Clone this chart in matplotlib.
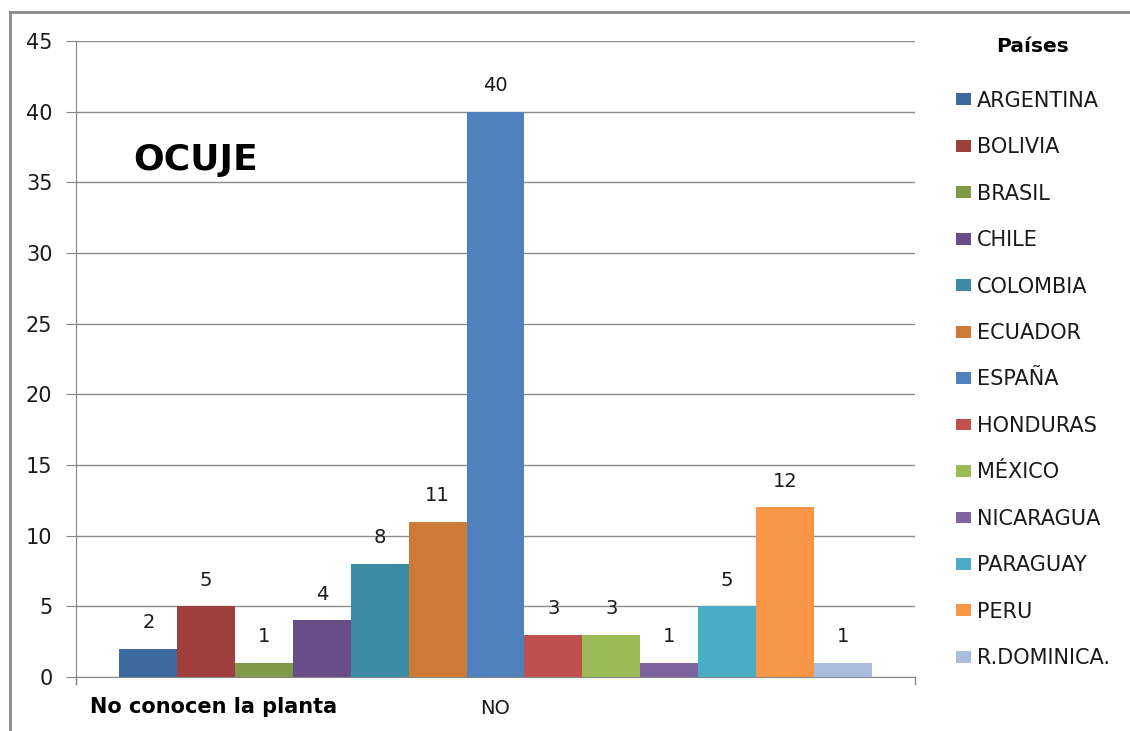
import matplotlib
matplotlib.use("Agg")
import matplotlib.pyplot as plt
from matplotlib.patches import Patch
from matplotlib.lines import Line2D
import numpy as np

plt.rcParams['font.family'] = ['DejaVu Sans']

category = "NO"
countries = ["ARGENTINA", "BOLIVIA", "BRASIL", "CHILE", "COLOMBIA", "ECUADOR",
             "ESPAÑA", "HONDURAS", "MÉXICO", "NICARAGUA", "PARAGUAY", "PERU",
             "R.DOMINICA."]
values = [2, 5, 1, 4, 8, 11, 40, 3, 3, 1, 5, 12, 1]
colors = ["#3D6A9E", "#9E3F3D", "#7E9A48", "#684E87", "#3B8CA2", "#CD7A37",
          "#4F81BD", "#C0504D", "#9BBB59", "#8064A2", "#4BACC6", "#F79646",
          "#A9BCDB"]
yticks = [0, 5, 10, 15, 20, 25, 30, 35, 40, 45]

W, H = 1130, 731
fig = plt.figure(figsize=(W / 100, H / 100), dpi=100)
ax = fig.add_axes([76 / W, 1 - 677 / H, (915 - 76) / W, (677 - 41) / H])

n = len(values)
bw = 1.0 / (n + 1.5)
x0 = -0.5 + 0.75 * bw
for i, (c, v, col) in enumerate(zip(countries, values, colors)):
    xc = x0 + bw * i + bw / 2
    ax.bar(xc, v, width=bw, color=col, label=c, zorder=3)
    ax.annotate(str(v), (xc, v), xytext=(0, 12), textcoords="offset points",
                ha="center", va="bottom", fontsize=14, color="#1a1a1a")

ax.set_xlim(-0.5, 0.5)
ax.set_ylim(0, 45)
ax.set_yticks(yticks)
ax.set_yticklabels([str(t) for t in yticks], fontsize=15, color="#1a1a1a")
ax.set_xticks([0])
ax.set_xticklabels([category], fontsize=14, color="#1a1a1a")
ax.tick_params(axis="x", length=0, pad=16)
ax.tick_params(axis="y", length=7, color="#868686", pad=10)
ax.grid(axis="y", color="#8c8c8c", linewidth=1, zorder=0)
for s in ["top", "right"]:
    ax.spines[s].set_visible(False)
ax.spines["left"].set_color("#868686")
ax.spines["bottom"].set_color("#868686")
ax.spines["left"].set_bounds(-0.5, 45)
# small end ticks on the category axis
for xe in (-0.5, 0.5):
    ax.plot([xe, xe], [0, -0.5], color="#868686", lw=1, clip_on=False, zorder=4)

fig.text(133 / W, 1 - 160 / H, "OCUJE", fontsize=26, fontweight="bold",
         va="center", ha="left", color="black")
fig.text(90 / W, 1 - 707 / H, "No conocen la planta", fontsize=15,
         fontweight="bold", va="center", ha="left", color="black")

handles = [Patch(facecolor=col, edgecolor="none") for col in colors]
leg = fig.legend(handles, countries, loc="upper left",
                 bbox_to_anchor=(956 / W, 1 - 37 / H), frameon=False,
                 title="Países", fontsize=15, handlelength=0.7,
                 handleheight=0.5, handletextpad=0.3, labelspacing=1.27,
                 borderpad=0, borderaxespad=0)
leg.get_title().set_fontweight("bold")
leg.get_title().set_fontsize(14.5)
leg._legend_box.sep = 25
for t in leg.get_texts():
    t.set_color("#1a1a1a")

# outer chart border (top and left visible)
fig.add_artist(Line2D([10 / W, 1], [1 - 12 / H, 1 - 12 / H], color="#8a8a8a",
                      lw=2, transform=fig.transFigure))
fig.add_artist(Line2D([10 / W, 10 / W], [0, 1 - 12 / H], color="#8a8a8a",
                      lw=2, transform=fig.transFigure))

fig.savefig("out.png", dpi=100)
